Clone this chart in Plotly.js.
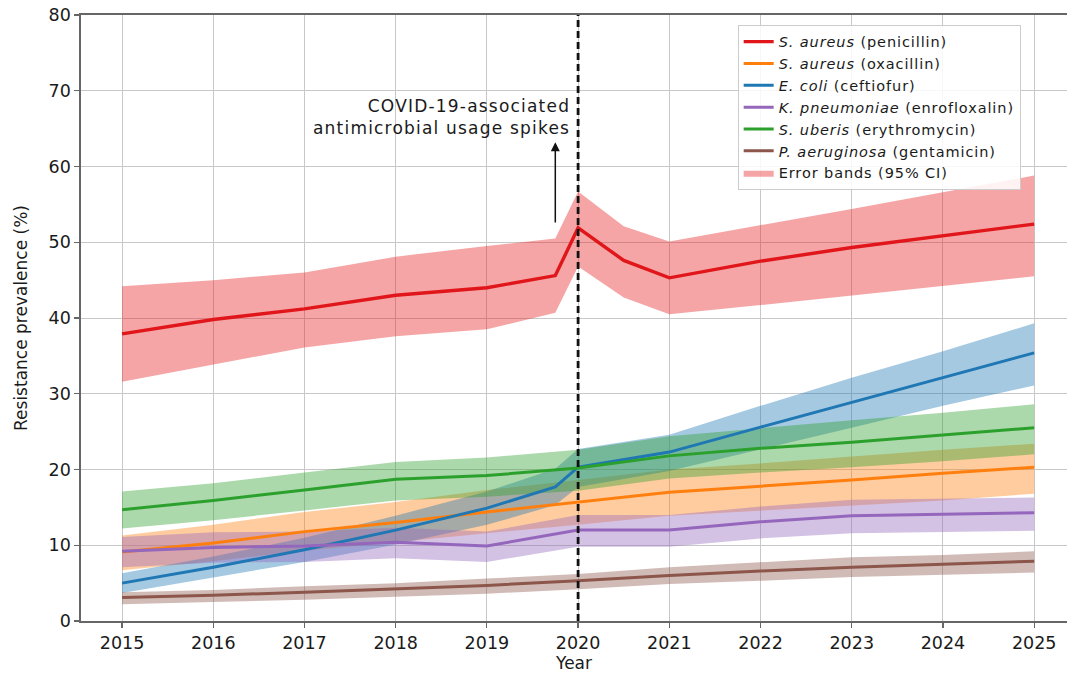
<!DOCTYPE html>
<html>
<head>
<meta charset="utf-8">
<script src="https://cdn.plot.ly/plotly-3.0.1.min.js"></script>
<style>
  html, body { margin: 0; padding: 0; background: #fff; }
  #chart { width: 1068px; height: 673px; }
  /* slightly wider text runs for the legend and the callout */
  .legendtext { letter-spacing: 0.9px; }
  .annotation-text { letter-spacing: 1.2px; }
</style>
</head>
<body>
<div id="chart"></div>
<script>
// Survey years (the S. aureus penicillin and E. coli series carry extra sub-year points around 2020)
const years      = [2015, 2016, 2017, 2018, 2019, 2020, 2021, 2022, 2023, 2024, 2025];
const yearsSpike = [2015, 2016, 2017, 2018, 2019, 2019.75, 2020, 2020.5, 2021, 2022, 2023, 2024, 2025];
const yearsEcoli = [2015, 2016, 2017, 2018, 2019, 2019.75, 2020, 2021, 2022, 2023, 2024, 2025];

// S. aureus (penicillin)
const penicillinMean = [37.9, 39.8, 41.2, 43.0, 44.0, 45.6, 51.9, 47.6, 45.3, 47.5, 49.3, 50.9, 52.4];
const penicillinLow  = [31.6, 33.9, 36.1, 37.6, 38.5, 40.7, 46.8, 42.7, 40.5, 41.7, 42.9, 44.2, 45.5];
const penicillinHigh = [44.2, 45.0, 46.0, 48.1, 49.5, 50.5, 56.7, 52.1, 50.1, 52.2, 54.4, 56.6, 58.8];

// S. aureus (oxacillin)
const oxacillinMean = [9.1, 10.3, 11.8, 13.0, 14.4, 15.7, 17.0, 17.8, 18.6, 19.5, 20.3];
const oxacillinLow  = [6.7, 7.9, 9.3, 10.4, 11.6, 12.7, 13.9, 14.5, 15.2, 15.9, 16.8];
const oxacillinHigh = [11.3, 12.7, 14.4, 15.7, 17.3, 18.6, 20.0, 20.8, 21.7, 22.6, 23.4];

// E. coli (ceftiofur)
const ceftiofurMean = [5.0, 7.1, 9.4, 12.0, 14.9, 17.7, 20.3, 22.3, 25.6, 28.9, 32.2, 35.4];
const ceftiofurLow  = [3.7, 5.7, 7.8, 10.1, 12.7, 15.3, 17.7, 19.8, 22.6, 25.5, 28.4, 31.1];
const ceftiofurHigh = [6.3, 8.5, 11.0, 13.9, 17.1, 20.1, 22.7, 24.6, 28.4, 32.1, 35.6, 39.3];

// K. pneumoniae (enrofloxalin)
const enroMean = [9.2, 9.7, 9.9, 10.4, 9.9, 12.0, 12.0, 13.1, 13.9, 14.1, 14.3];
const enroLow  = [7.1, 7.7, 7.8, 8.3, 7.8, 9.8, 9.8, 10.9, 11.6, 11.8, 11.9];
const enroHigh = [11.1, 11.7, 11.8, 12.3, 11.8, 14.0, 14.0, 15.1, 16.0, 16.2, 16.3];

// S. uberis (erythromycin)
const erythroMean = [14.7, 15.9, 17.3, 18.7, 19.2, 20.2, 21.8, 22.8, 23.6, 24.5, 25.5];
const erythroLow  = [12.2, 13.3, 14.6, 15.9, 16.4, 17.2, 18.8, 19.6, 20.3, 21.1, 22.0];
const erythroHigh = [17.1, 18.2, 19.6, 21.0, 21.6, 22.6, 24.4, 25.5, 26.5, 27.5, 28.6];

// P. aeruginosa (gentamicin)
const gentaMean = [3.1, 3.4, 3.8, 4.2, 4.7, 5.3, 6.0, 6.6, 7.1, 7.5, 7.9];
const gentaLow  = [2.2, 2.5, 2.8, 3.2, 3.6, 4.2, 4.9, 5.3, 5.8, 6.1, 6.4];
const gentaHigh = [3.8, 4.1, 4.6, 5.0, 5.6, 6.2, 7.1, 7.7, 8.4, 8.7, 9.2];

const seriesNames = [
  '<i>S. aureus</i> (penicillin)',
  '<i>S. aureus</i> (oxacillin)',
  '<i>E. coli</i> (ceftiofur)',
  '<i>K. pneumoniae</i> (enrofloxalin)',
  '<i>S. uberis</i> (erythromycin)',
  '<i>P. aeruginosa</i> (gentamicin)'
];
const bandLabel = 'Error bands (95% CI)';
const annotationText = 'COVID-19-associated<br>antimicrobial usage spikes';
const xTickYears = years;
const yTicks = [0, 10, 20, 30, 40, 50, 60, 70, 80];

const series = [
  { x: yearsSpike, mean: penicillinMean, low: penicillinLow, high: penicillinHigh,
    line: '#e0161b', band: 'rgba(230,30,30,0.40)', width: 3.4 },
  { x: years, mean: oxacillinMean, low: oxacillinLow, high: oxacillinHigh,
    line: '#ff7f0e', band: 'rgba(255,127,14,0.40)', width: 3 },
  { x: yearsEcoli, mean: ceftiofurMean, low: ceftiofurLow, high: ceftiofurHigh,
    line: '#1f77b4', band: 'rgba(31,119,180,0.40)', width: 3 },
  { x: years, mean: enroMean, low: enroLow, high: enroHigh,
    line: '#9467bd', band: 'rgba(148,103,189,0.40)', width: 3 },
  { x: years, mean: erythroMean, low: erythroLow, high: erythroHigh,
    line: '#2ca02c', band: 'rgba(44,160,44,0.40)', width: 3 },
  { x: years, mean: gentaMean, low: gentaLow, high: gentaHigh,
    line: '#8c564b', band: 'rgba(140,86,75,0.40)', width: 3 }
];

const traces = [];

// Confidence bands first, so the mean lines sit on top
series.forEach((s, i) => {
  traces.push({
    type: 'scatter', mode: 'lines',
    x: s.x.concat(s.x.slice().reverse()),
    y: s.high.concat(s.low.slice().reverse()),
    fill: 'toself', fillcolor: s.band,
    line: { width: 0, color: s.band },
    hoverinfo: 'skip',
    name: bandLabel,
    showlegend: i === 0,
    legendrank: 7
  });
});

series.forEach((s, i) => {
  traces.push({
    type: 'scatter', mode: 'lines',
    x: s.x, y: s.mean,
    line: { color: s.line, width: s.width },
    name: seriesNames[i],
    legendrank: i + 1
  });
});

const font = 'DejaVu Sans, Liberation Sans, Arial, sans-serif';

const layout = {
  width: 1068, height: 673,
  margin: { l: 81, r: 1, t: 15, b: 52 },
  paper_bgcolor: '#ffffff',
  plot_bgcolor: '#ffffff',
  font: { family: font, color: '#1a1a1a', size: 16 },
  showlegend: true,
  xaxis: {
    range: [2014.55, 2025.36],
    tickvals: xTickYears,
    ticktext: xTickYears.map(String),
    tickfont: { size: 17.5, color: '#1a1a1a' },
    ticks: 'outside', ticklen: 5, tickcolor: '#666', tickwidth: 1.2,
    showgrid: true, gridcolor: '#c8c8c8', gridwidth: 1,
    showline: true, linecolor: '#666', linewidth: 1.6, mirror: true,
    zeroline: false,
    title: { text: 'Year', font: { size: 17, color: '#1a1a1a' }, standoff: 4 }
  },
  yaxis: {
    range: [0, 80],
    tickvals: yTicks,
    tickfont: { size: 17.5, color: '#1a1a1a' },
    ticks: 'outside', ticklen: 5, tickcolor: '#666', tickwidth: 1.2,
    showgrid: true, gridcolor: '#c8c8c8', gridwidth: 1,
    showline: true, linecolor: '#666', linewidth: 1.6,
    zeroline: false,
    title: { text: 'Resistance prevalence (%)', font: { size: 17, color: '#1a1a1a' }, standoff: 16 }
  },
  legend: {
    x: 0.666, y: 0.984, xanchor: 'left', yanchor: 'top',
    bgcolor: 'rgba(255,255,255,0.85)',
    bordercolor: '#cccccc', borderwidth: 1,
    font: { size: 14.5, color: '#1a1a1a' },
    tracegroupgap: 0
  },
  shapes: [
    {
      type: 'line', xref: 'x', yref: 'paper',
      x0: 2020, x1: 2020, y0: 0, y1: 1,
      line: { color: '#111', width: 2.8, dash: '7px,4px' }
    }
  ],
  annotations: [
    {
      xref: 'x', yref: 'y', axref: 'x', ayref: 'y',
      x: 2019.75, y: 63.2, ax: 2019.75, ay: 52.4,
      text: '', showarrow: true,
      arrowhead: 2, arrowsize: 1.2, arrowwidth: 1.5, arrowcolor: '#111'
    },
    {
      xref: 'x', yref: 'y',
      x: 2019.93, y: 66.6, xanchor: 'right', yanchor: 'middle', align: 'right',
      text: annotationText, showarrow: false,
      font: { size: 17, color: '#1a1a1a' }
    }
  ]
};

Plotly.newPlot('chart', traces, layout, { displayModeBar: false, staticPlot: true });
</script>
</body>
</html>
